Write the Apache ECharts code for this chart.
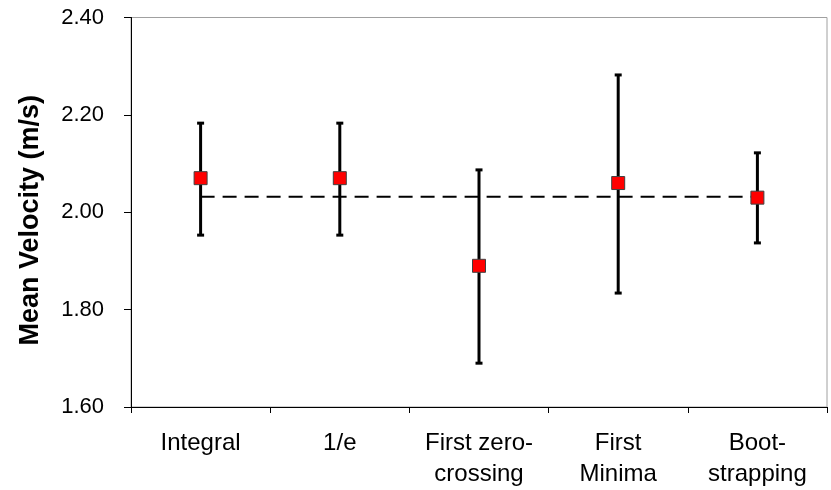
<!DOCTYPE html>
<html>
<head>
<meta charset="utf-8">
<script src="https://cdn.jsdelivr.net/npm/echarts@6/dist/echarts.min.js"></script>
<style>html,body{margin:0;padding:0;background:#fff}#c{width:831px;height:490px}</style>
</head>
<body>
<div id="c"></div>
<script>
var categories = ['Integral', '1/e', 'First zero-\ncrossing', 'First\nMinima', 'Boot-\nstrapping'];
var meanValues = [2.07, 2.07, 1.89, 2.06, 2.03];
var errLow = [1.953, 1.953, 1.69, 1.834, 1.937];
var errHigh = [2.183, 2.183, 2.087, 2.282, 2.122];
var trendValues = [2.032, 2.032, 2.032, 2.032, 2.032];
var yTicks = [1.6, 1.8, 2.0, 2.2, 2.4];

var chart = echarts.init(document.getElementById('c'));
var font = 'Liberation Sans, Arial, sans-serif';
var errData = categories.map(function (c, i) { return [i, errLow[i], errHigh[i]]; });

chart.setOption({
  animation: false,
  grid: { left: 131, right: 4, top: 17.5, bottom: 83, show: true, borderColor: '#a0a0a0', borderWidth: 1, containLabel: false, outerBoundsMode: 'none' },
  xAxis: {
    type: 'category',
    data: categories,
    boundaryGap: true,
    axisLine: { show: true, lineStyle: { color: '#000', width: 1 } },
    axisTick: { show: true, length: 6, alignWithLabel: false, lineStyle: { color: '#000' } },
    axisLabel: { color: '#000', fontFamily: font, fontSize: 24, margin: 21, lineHeight: 31, interval: 0 }
  },
  yAxis: {
    type: 'value',
    min: yTicks[0],
    max: yTicks[yTicks.length - 1],
    interval: 0.2,
    name: 'Mean Velocity (m/s)',
    nameLocation: 'middle',
    nameGap: 87,
    nameTextStyle: { color: '#000', fontFamily: font, fontSize: 27, fontWeight: 'bold', padding: [0, 16, 0, 0] },
    axisLine: { show: true, lineStyle: { color: '#000', width: 1 } },
    axisTick: { show: true, inside: false, length: 7, lineStyle: { color: '#000' } },
    splitLine: { show: false },
    axisLabel: { color: '#000', fontFamily: font, fontSize: 22, margin: 27, formatter: function (v) { return v.toFixed(2); } }
  },
  series: [
    {
      type: 'custom',
      data: errData,
      z: 2,
      renderItem: function (params, api) {
        var x = api.value(0);
        var lo = api.coord([x, api.value(1)]);
        var hi = api.coord([x, api.value(2)]);
        var cap = 3.5;
        var style = { stroke: '#000', lineWidth: 3 };
        return {
          type: 'group',
          children: [
            { type: 'line', shape: { x1: lo[0], y1: lo[1], x2: hi[0], y2: hi[1] }, style: style },
            { type: 'line', shape: { x1: lo[0] - cap, y1: lo[1], x2: lo[0] + cap, y2: lo[1] }, style: style },
            { type: 'line', shape: { x1: hi[0] - cap, y1: hi[1], x2: hi[0] + cap, y2: hi[1] }, style: style }
          ]
        };
      }
    },
    {
      type: 'line',
      data: trendValues,
      z: 3,
      symbol: 'none',
      lineStyle: { color: '#000', width: 2, type: [14, 8] }
    },
    {
      type: 'scatter',
      data: meanValues,
      z: 4,
      symbol: 'rect',
      symbolSize: 13,
      itemStyle: { color: '#ff0000', borderColor: '#404040', borderWidth: 1, opacity: 1 }
    }
  ]
});
</script>
</body>
</html>
